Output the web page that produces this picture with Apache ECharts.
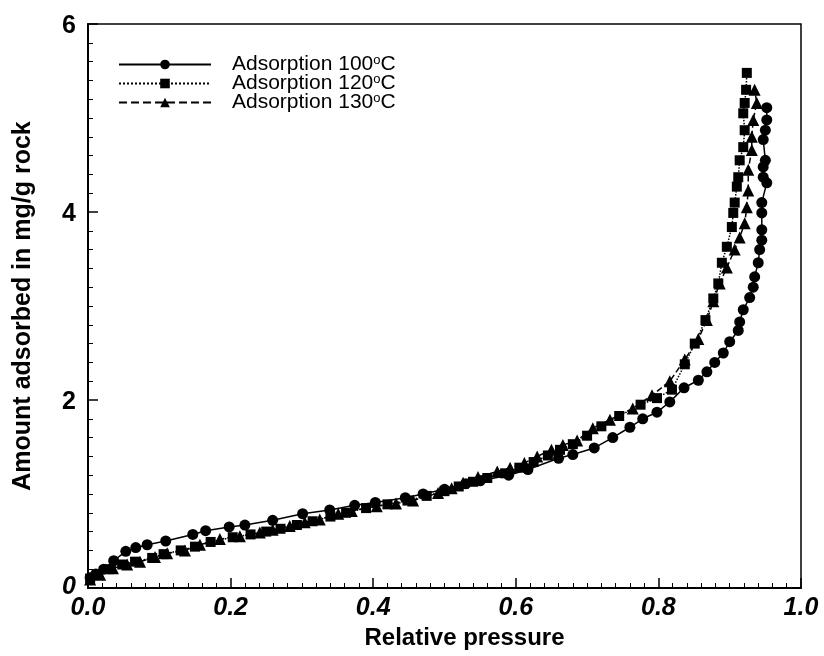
<!DOCTYPE html>
<html>
<head>
<meta charset="utf-8">
<script src="https://cdn.jsdelivr.net/npm/echarts@6/dist/echarts.min.js"></script>
<style>html,body{margin:0;padding:0;background:#fff;}#c{width:824px;height:656px;}</style>
</head>
<body>
<div id="c"></div>
<script>
var seriesNames = ['Adsorption 100oC', 'Adsorption 120oC', 'Adsorption 130oC'];
var xTicks = [0, 0.2, 0.4, 0.6, 0.8, 1.0];
var yTicks = [0, 2, 4, 6];

var ads100 = [[0.003,0.11],[0.011,0.15],[0.022,0.20],[0.036,0.29],[0.053,0.39],[0.067,0.43],[0.083,0.46],[0.109,0.50],[0.147,0.57],[0.165,0.61],[0.198,0.65],[0.220,0.67],[0.259,0.72],[0.301,0.79],[0.339,0.83],[0.374,0.88],[0.403,0.91],[0.445,0.96],[0.470,1.00],[0.500,1.05],[0.530,1.11],[0.550,1.14],[0.590,1.20],[0.617,1.26],[0.660,1.38],[0.680,1.42],[0.710,1.49],[0.736,1.60],[0.760,1.71],[0.778,1.80],[0.798,1.87],[0.816,1.98],[0.836,2.13],[0.856,2.21],[0.868,2.30],[0.879,2.40],[0.891,2.50],[0.900,2.62],[0.912,2.74],[0.914,2.83],[0.919,2.96],[0.928,3.09],[0.933,3.20],[0.935,3.31],[0.940,3.46],[0.942,3.60],[0.945,3.70],[0.945,3.81],[0.945,3.99],[0.945,4.10],[0.952,4.31],[0.947,4.37],[0.947,4.48],[0.950,4.55],[0.947,4.77],[0.950,4.87],[0.952,4.98],[0.952,5.11]];

var ads120 = [[0.003,0.10],[0.014,0.14],[0.030,0.20],[0.048,0.25],[0.066,0.28],[0.090,0.32],[0.106,0.36],[0.130,0.40],[0.150,0.44],[0.172,0.49],[0.203,0.54],[0.228,0.57],[0.250,0.60],[0.270,0.63],[0.293,0.67],[0.315,0.71],[0.340,0.76],[0.362,0.80],[0.390,0.85],[0.420,0.89],[0.448,0.93],[0.475,0.98],[0.500,1.03],[0.520,1.08],[0.540,1.13],[0.560,1.17],[0.585,1.22],[0.605,1.28],[0.625,1.34],[0.645,1.41],[0.662,1.47],[0.680,1.53],[0.700,1.62],[0.720,1.72],[0.745,1.83],[0.775,1.95],[0.798,2.02],[0.819,2.11],[0.837,2.38],[0.851,2.60],[0.866,2.85],[0.877,3.08],[0.884,3.24],[0.889,3.46],[0.896,3.63],[0.903,3.84],[0.905,3.99],[0.907,4.10],[0.910,4.27],[0.912,4.37],[0.914,4.55],[0.919,4.69],[0.921,4.87],[0.919,5.05],[0.921,5.16],[0.923,5.30],[0.924,5.48]];

var ads130 = [[0.003,0.09],[0.017,0.14],[0.035,0.21],[0.055,0.25],[0.073,0.28],[0.094,0.33],[0.111,0.37],[0.136,0.40],[0.157,0.46],[0.185,0.52],[0.213,0.55],[0.241,0.59],[0.259,0.62],[0.283,0.66],[0.304,0.70],[0.325,0.73],[0.351,0.79],[0.370,0.82],[0.405,0.87],[0.432,0.90],[0.456,0.93],[0.491,1.01],[0.510,1.06],[0.526,1.12],[0.547,1.18],[0.574,1.24],[0.592,1.28],[0.612,1.33],[0.630,1.40],[0.650,1.47],[0.666,1.52],[0.686,1.57],[0.708,1.70],[0.732,1.79],[0.764,1.91],[0.791,2.05],[0.816,2.20],[0.837,2.43],[0.856,2.65],[0.868,2.85],[0.877,3.05],[0.886,3.24],[0.896,3.41],[0.907,3.60],[0.914,3.73],[0.921,3.88],[0.924,4.05],[0.926,4.23],[0.926,4.45],[0.931,4.66],[0.931,4.80],[0.933,4.98],[0.938,5.16],[0.935,5.30]];

var FONT = '"Liberation Sans", Arial, sans-serif';
var chart = echarts.init(document.getElementById('c'));

function mk(name, data, symbol, size, ltype) {
  return {
    name: name, type: 'line', data: data,
    symbol: symbol, symbolSize: size, showSymbol: true,
    lineStyle: {color: '#000', width: 1.5, type: ltype},
    itemStyle: {color: '#000'},
    animation: false, z: 3
  };
}

chart.setOption({
  backgroundColor: '#fff',
  animation: false,
  grid: {left: 88, right: 23, top: 24, bottom: 68, show: true, borderColor: '#000', borderWidth: 1.5, backgroundColor: 'transparent'},
  legend: {
    left: 113, top: 49, orient: 'vertical',
    itemWidth: 92, itemHeight: 12, itemGap: -2,
    data: seriesNames,
    formatter: function (n) { return n.replace('oC', '') + '{sup|o}C'; },
    textStyle: {fontFamily: FONT, fontSize: 21, lineHeight: 19, color: '#000', padding: [0, 0, 0, 16],
      rich: {sup: {fontFamily: FONT, fontSize: 13, lineHeight: 19, color: '#000', padding: [0, 0, 8, 0]}}}
  },
  xAxis: {
    type: 'value', min: 0, max: 1, interval: 0.2,
    name: 'Relative pressure', nameLocation: 'middle', nameGap: 33,
    nameTextStyle: {fontFamily: FONT, fontSize: 24, fontWeight: 'bold', color: '#000', padding: [0, 0, 0, 40]},
    axisLine: {show: true, lineStyle: {color: '#000', width: 2}},
    axisTick: {show: true, inside: true, length: 10, lineStyle: {color: '#000', width: 1.5}},
    minorTick: {show: true, splitNumber: 10, length: 5, lineStyle: {color: '#000', width: 1}},
    splitLine: {show: false},
    axisLabel: {fontFamily: FONT, fontSize: 25, fontWeight: 'bold', fontStyle: 'italic', color: '#000', margin: 8,
      formatter: function (v) { return v.toFixed(1); }}
  },
  yAxis: {
    type: 'value', min: 0, max: 6, interval: 2,
    name: 'Amount adsorbed in mg/g rock', nameLocation: 'middle', nameGap: 52,
    nameTextStyle: {fontFamily: FONT, fontSize: 25, fontWeight: 'bold', color: '#000'},
    axisLine: {show: true, lineStyle: {color: '#000', width: 2}},
    axisTick: {show: true, inside: true, length: 10, lineStyle: {color: '#000', width: 1.5}},
    minorTick: {show: true, splitNumber: 10, length: 5, lineStyle: {color: '#000', width: 1}},
    splitLine: {show: false},
    axisLabel: {fontFamily: FONT, fontSize: 25, fontWeight: 'bold', color: '#000', margin: 12, padding: [4, 0, 0, 0],
      formatter: function (v) { return v === 0 ? '{i|0}' : String(v); },
      rich: {i: {fontFamily: FONT, fontSize: 25, fontWeight: 'bold', fontStyle: 'italic', color: '#000', padding: [0, 0, 6, 0]}}}
  },
  series: [
    mk(seriesNames[0], ads100, 'circle', 11, 'solid'),
    mk(seriesNames[1], ads120, 'rect', 10, 'dotted'),
    mk(seriesNames[2], ads130, 'triangle', 12, 'dashed')
  ]
});
</script>
</body>
</html>
